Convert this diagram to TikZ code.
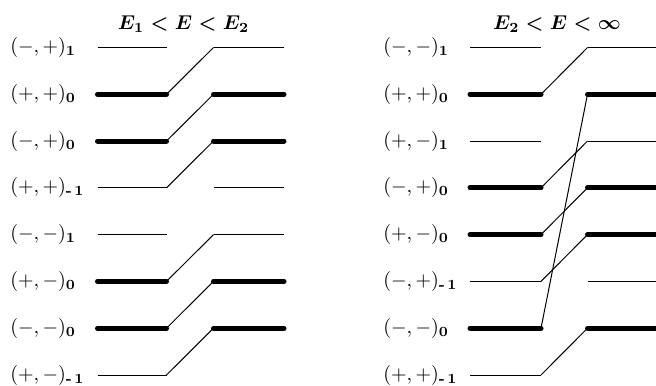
\documentclass[tikz,border=0pt]{standalone}
\usepackage{amsmath,amssymb}
\usepackage{tikz}
\usetikzlibrary{positioning}

\newcommand{\lsub}[1]{_{\mathbf{#1}}}
\newcommand{\msub}{_{\text{\bfseries -\,1}}}

\begin{document}
\begin{tikzpicture}[x=0.5pt,y=-0.5pt,
  lvl/.style={line width=0.5pt},
  lvlthick/.style={line width=2.5pt,line cap=round},
  link/.style={line width=0.5pt},
  lbl/.style={anchor=base west,inner sep=0pt},
  ttl/.style={anchor=base,inner sep=0pt,font=\boldmath}]
\useasboundingbox (0,0) rectangle (656,385);
% end points of the level lines
\foreach \r/\yy in {1/47.5,2/94.3,3/141,4/187.8,5/234.6,6/281.4,7/328.2,8/375}{
  \coordinate (a\r s) at (97.5,\yy);  \coordinate (a\r e) at (166.5,\yy);
  \coordinate (b\r s) at (213.5,\yy); \coordinate (b\r e) at (284,\yy);
  \coordinate (c\r s) at (470,\yy);   \coordinate (c\r e) at (541,\yy);
  \coordinate (d\r s) at (587.5,\yy); \coordinate (d\r e) at (662,\yy);
}

% titles
\node[ttl] (t1) at (183.5,30) {$E_1<E<E_2$};
\node[ttl] (t2) at (557,30) {$E_2<E<\infty$};

% labels, left panel
\node[lbl] (la1) at (10,52.5)  {$(-,+)\lsub{1}$};
\node[lbl] (la2) at (10,99.3)  {$(+,+)\lsub{0}$};
\node[lbl] (la3) at (10,146)   {$(-,+)\lsub{0}$};
\node[lbl] (la4) at (10,192.8) {$(+,+)\msub$};
\node[lbl] (la5) at (10,239.6) {$(-,-)\lsub{1}$};
\node[lbl] (la6) at (10,286.4) {$(+,-)\lsub{0}$};
\node[lbl] (la7) at (10,333.2) {$(-,-)\lsub{0}$};
\node[lbl] (la8) at (10,380)   {$(+,-)\msub$};

% labels, right panel
\node[lbl] (lc1) at (383,52.5)  {$(-,-)\lsub{1}$};
\node[lbl] (lc2) at (383,99.3)  {$(+,+)\lsub{0}$};
\node[lbl] (lc3) at (383,146)   {$(+,-)\lsub{1}$};
\node[lbl] (lc4) at (383,192.8) {$(-,+)\lsub{0}$};
\node[lbl] (lc5) at (383,239.6) {$(+,-)\lsub{0}$};
\node[lbl] (lc6) at (383,286.4) {$(-,+)\msub$};
\node[lbl] (lc7) at (383,333.2) {$(-,-)\lsub{0}$};
\node[lbl] (lc8) at (383,380)   {$(+,+)\msub$};

% left panel levels
\foreach \r in {1,4,5,8} \draw[lvl] (a\r s) -- (a\r e);
\foreach \r in {2,3,6,7} \draw[lvlthick] (a\r s) -- (a\r e);
\foreach \r in {1,4,5} \draw[lvl] (b\r s) -- (b\r e);
\foreach \r in {2,3,6,7} \draw[lvlthick] (b\r s) -- (b\r e);

% right panel levels
\foreach \r in {1,3,6,8} \draw[lvl] (c\r s) -- (c\r e);
\foreach \r in {2,4,5,7} \draw[lvlthick] (c\r s) -- (c\r e);
\foreach \r in {1,3,6} \draw[lvl] (d\r s) -- (d\r e);
\foreach \r in {2,4,5,7} \draw[lvlthick] (d\r s) -- (d\r e);

% connections
\draw[link] (a2e) -- (b1s);
\draw[link] (a3e) -- (b2s);
\draw[link] (a4e) -- (b3s);
\draw[link] (a6e) -- (b5s);
\draw[link] (a7e) -- (b6s);
\draw[link] (a8e) -- (b7s);

\draw[link] (c2e) -- (d1s);
\draw[link] (c7e) -- (d2s);
\draw[link] (c4e) -- (d3s);
\draw[link] (c5e) -- (d4s);
\draw[link] (c6e) -- (d5s);
\draw[link] (c8e) -- (d7s);
\end{tikzpicture}
\end{document}
